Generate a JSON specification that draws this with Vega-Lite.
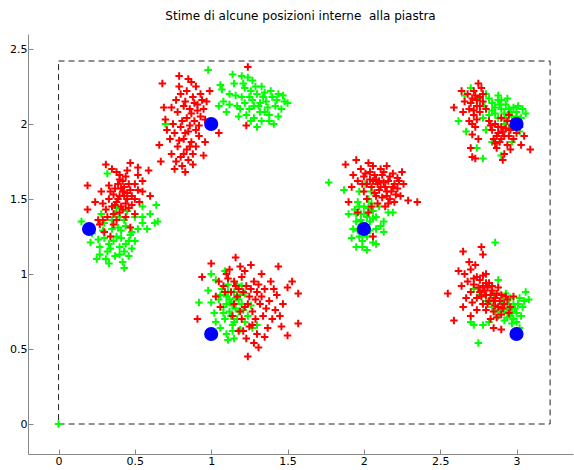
{
  "$schema": "https://vega.github.io/schema/vega-lite/v6.json",
  "width": 545,
  "height": 420,
  "autosize": "none",
  "padding": {"left": 28, "top": 34, "right": 1, "bottom": 16},
  "background": "white",
  "title": {"text": "Stime di alcune posizioni interne \u00a0alla piastra", "font": "DejaVu Sans", "fontSize": 12, "fontWeight": "normal", "color": "#000000", "offset": 11},
  "config": {
    "view": {"stroke": null},
    "axis": {"grid": false, "domainColor": "#888888", "tickColor": "#888888", "labelColor": "#000000", "labelFont": "DejaVu Sans", "labelFontSize": 11, "title": null, "tickSize": -5, "labelPadding": 6}
  },
  "datasets": {
    "piastra": [{"x0": 0, "x1": 3.22, "y0": 0, "y1": 2.42}],
    "riferimenti": [
      {"x": 0.2, "y": 1.3}, {"x": 1, "y": 2}, {"x": 1, "y": 0.6},
      {"x": 2, "y": 1.3}, {"x": 3, "y": 2}, {"x": 3, "y": 0.6}
    ],
    "stime": [
      {"x":0.41,"y":1.29,"c":"g"},{"x":0.38,"y":1.25,"c":"g"},{"x":0.44,"y":1.32,"c":"g"},{"x":0.35,"y":1.30,"c":"g"},{"x":0.46,"y":1.22,"c":"g"},{"x":0.40,"y":1.18,"c":"g"},{"x":0.33,"y":1.20,"c":"g"},{"x":0.30,"y":1.24,"c":"g"},{"x":0.43,"y":1.15,"c":"g"},{"x":0.37,"y":1.12,"c":"g"},{"x":0.42,"y":1.08,"c":"g"},{"x":0.32,"y":1.15,"c":"g"},{"x":0.27,"y":1.18,"c":"g"},{"x":0.25,"y":1.10,"c":"g"},{"x":0.48,"y":1.28,"c":"g"},{"x":0.52,"y":1.30,"c":"g"},{"x":0.55,"y":1.34,"c":"g"},{"x":0.58,"y":1.30,"c":"g"},{"x":0.63,"y":1.34,"c":"g"},{"x":0.65,"y":1.35,"c":"g"},{"x":0.50,"y":1.38,"c":"g"},{"x":0.45,"y":1.42,"c":"g"},{"x":0.40,"y":1.38,"c":"g"},{"x":0.35,"y":1.36,"c":"g"},{"x":0.30,"y":1.34,"c":"g"},{"x":0.22,"y":1.27,"c":"g"},{"x":0.21,"y":1.21,"c":"g"},{"x":0.15,"y":1.35,"c":"g"},{"x":0.28,"y":1.40,"c":"g"},{"x":0.38,"y":1.44,"c":"g"},{"x":0.55,"y":1.45,"c":"g"},{"x":0.64,"y":1.46,"c":"g"},{"x":0.46,"y":1.12,"c":"g"},{"x":0.33,"y":1.07,"c":"g"},{"x":0.43,"y":1.04,"c":"g"},{"x":0.27,"y":1.13,"c":"g"},{"x":0.44,"y":1.20,"c":"g"},{"x":0.32,"y":1.67,"c":"g"},
      {"x":0.36,"y":1.22,"c":"g"},{"x":0.41,"y":1.24,"c":"g"},{"x":0.39,"y":1.31,"c":"g"},{"x":0.47,"y":1.26,"c":"g"},{"x":0.34,"y":1.17,"c":"g"},{"x":0.40,"y":1.13,"c":"g"},{"x":0.29,"y":1.29,"c":"g"},{"x":0.50,"y":1.22,"c":"g"},{"x":0.43,"y":1.36,"c":"g"},{"x":0.37,"y":1.40,"c":"g"},{"x":0.55,"y":1.38,"c":"g"},{"x":0.26,"y":1.23,"c":"g"},{"x":0.48,"y":1.17,"c":"g"},{"x":0.31,"y":1.10,"c":"g"},{"x":0.60,"y":1.40,"c":"g"},
      {"x":0.98,"y":2.36,"c":"g"},{"x":0.70,"y":2.00,"c":"g"},{"x":1.07,"y":2.23,"c":"g"},{"x":1.06,"y":2.26,"c":"g"},{"x":1.08,"y":2.15,"c":"g"},{"x":1.10,"y":2.08,"c":"g"},{"x":1.12,"y":2.20,"c":"g"},{"x":1.15,"y":2.27,"c":"g"},{"x":1.17,"y":2.12,"c":"g"},{"x":1.18,"y":2.05,"c":"g"},{"x":1.20,"y":2.18,"c":"g"},{"x":1.22,"y":2.24,"c":"g"},{"x":1.24,"y":2.31,"c":"g"},{"x":1.25,"y":2.10,"c":"g"},{"x":1.27,"y":2.16,"c":"g"},{"x":1.28,"y":2.04,"c":"g"},{"x":1.30,"y":2.20,"c":"g"},{"x":1.31,"y":2.12,"c":"g"},{"x":1.33,"y":2.25,"c":"g"},{"x":1.35,"y":2.08,"c":"g"},{"x":1.36,"y":2.15,"c":"g"},{"x":1.38,"y":2.02,"c":"g"},{"x":1.40,"y":2.18,"c":"g"},{"x":1.42,"y":2.12,"c":"g"},{"x":1.44,"y":2.20,"c":"g"},{"x":1.46,"y":2.10,"c":"g"},{"x":1.48,"y":2.15,"c":"g"},{"x":1.50,"y":2.14,"c":"g"},{"x":1.41,"y":2.00,"c":"g"},{"x":1.30,"y":1.98,"c":"g"},{"x":1.20,"y":2.32,"c":"g"},{"x":1.14,"y":2.33,"c":"g"},{"x":1.26,"y":2.22,"c":"g"},{"x":1.23,"y":2.06,"c":"g"},{"x":1.35,"y":2.21,"c":"g"},{"x":1.05,"y":2.12,"c":"g"},{"x":1.44,"y":2.05,"c":"g"},{"x":1.32,"y":2.14,"c":"g"},
      {"x":1.22,"y":2.14,"c":"g"},{"x":1.25,"y":2.18,"c":"g"},{"x":1.28,"y":2.12,"c":"g"},{"x":1.29,"y":2.25,"c":"g"},{"x":1.32,"y":2.08,"c":"g"},{"x":1.34,"y":2.18,"c":"g"},{"x":1.37,"y":2.11,"c":"g"},{"x":1.39,"y":2.22,"c":"g"},{"x":1.19,"y":2.10,"c":"g"},{"x":1.16,"y":2.19,"c":"g"},{"x":1.21,"y":2.27,"c":"g"},{"x":1.27,"y":2.29,"c":"g"},{"x":1.43,"y":2.16,"c":"g"},{"x":1.47,"y":2.19,"c":"g"},{"x":1.38,"y":2.06,"c":"g"},{"x":1.26,"y":2.02,"c":"g"},{"x":1.12,"y":2.13,"c":"g"},{"x":1.33,"y":2.02,"c":"g"},
      {"x":1.13,"y":0.81,"c":"g"},{"x":1.10,"y":0.85,"c":"g"},{"x":1.15,"y":0.88,"c":"g"},{"x":1.18,"y":0.83,"c":"g"},{"x":1.08,"y":0.78,"c":"g"},{"x":1.12,"y":0.75,"c":"g"},{"x":1.16,"y":0.77,"c":"g"},{"x":1.20,"y":0.80,"c":"g"},{"x":1.05,"y":0.83,"c":"g"},{"x":1.07,"y":0.90,"c":"g"},{"x":1.11,"y":0.93,"c":"g"},{"x":1.17,"y":0.70,"c":"g"},{"x":1.14,"y":0.66,"c":"g"},{"x":1.19,"y":0.63,"c":"g"},{"x":1.22,"y":0.68,"c":"g"},{"x":1.24,"y":0.72,"c":"g"},{"x":1.09,"y":0.70,"c":"g"},{"x":1.03,"y":0.96,"c":"g"},{"x":1.00,"y":1.00,"c":"g"},{"x":0.98,"y":0.89,"c":"g"},{"x":0.92,"y":0.81,"c":"g"},{"x":1.00,"y":0.81,"c":"g"},{"x":1.02,"y":0.74,"c":"g"},{"x":1.20,"y":0.92,"c":"g"},{"x":1.27,"y":0.64,"c":"g"},{"x":1.30,"y":0.66,"c":"g"},{"x":1.10,"y":0.60,"c":"g"},{"x":1.11,"y":0.56,"c":"g"},{"x":1.15,"y":0.57,"c":"g"},{"x":1.03,"y":0.68,"c":"g"},{"x":1.22,"y":0.87,"c":"g"},{"x":1.09,"y":1.02,"c":"g"},{"x":1.26,"y":0.79,"c":"g"},
      {"x":1.12,"y":0.83,"c":"g"},{"x":1.14,"y":0.79,"c":"g"},{"x":1.16,"y":0.84,"c":"g"},{"x":1.10,"y":0.80,"c":"g"},{"x":1.13,"y":0.72,"c":"g"},{"x":1.18,"y":0.75,"c":"g"},{"x":1.15,"y":0.68,"c":"g"},{"x":1.11,"y":0.88,"c":"g"},{"x":1.06,"y":0.86,"c":"g"},{"x":1.08,"y":0.74,"c":"g"},{"x":1.19,"y":0.86,"c":"g"},{"x":1.21,"y":0.76,"c":"g"},{"x":1.14,"y":0.62,"c":"g"},{"x":1.06,"y":0.64,"c":"g"},{"x":1.17,"y":0.93,"c":"g"},
      {"x":1.77,"y":1.61,"c":"g"},{"x":1.87,"y":1.56,"c":"g"},{"x":2.00,"y":1.45,"c":"g"},{"x":1.96,"y":1.48,"c":"g"},{"x":2.03,"y":1.50,"c":"g"},{"x":1.98,"y":1.40,"c":"g"},{"x":2.02,"y":1.38,"c":"g"},{"x":1.94,"y":1.43,"c":"g"},{"x":1.99,"y":1.33,"c":"g"},{"x":2.04,"y":1.35,"c":"g"},{"x":1.95,"y":1.35,"c":"g"},{"x":2.00,"y":1.28,"c":"g"},{"x":1.97,"y":1.25,"c":"g"},{"x":2.06,"y":1.21,"c":"g"},{"x":1.93,"y":1.30,"c":"g"},{"x":2.06,"y":1.42,"c":"g"},{"x":2.08,"y":1.30,"c":"g"},{"x":2.13,"y":1.35,"c":"g"},{"x":2.13,"y":1.28,"c":"g"},{"x":2.16,"y":1.41,"c":"g"},{"x":2.19,"y":1.41,"c":"g"},{"x":2.08,"y":1.20,"c":"g"},{"x":1.95,"y":1.18,"c":"g"},{"x":1.99,"y":1.18,"c":"g"},{"x":2.02,"y":1.16,"c":"g"},{"x":1.92,"y":1.24,"c":"g"},{"x":2.05,"y":1.55,"c":"g"},{"x":2.01,"y":1.60,"c":"g"},{"x":1.97,"y":1.55,"c":"g"},{"x":1.90,"y":1.40,"c":"g"},{"x":2.10,"y":1.45,"c":"g"},
      {"x":2.00,"y":1.40,"c":"g"},{"x":2.03,"y":1.44,"c":"g"},{"x":1.98,"y":1.36,"c":"g"},{"x":2.01,"y":1.32,"c":"g"},{"x":1.97,"y":1.45,"c":"g"},{"x":2.04,"y":1.29,"c":"g"},{"x":2.06,"y":1.37,"c":"g"},{"x":1.99,"y":1.22,"c":"g"},{"x":2.05,"y":1.47,"c":"g"},{"x":1.95,"y":1.40,"c":"g"},{"x":2.08,"y":1.38,"c":"g"},{"x":1.96,"y":1.29,"c":"g"},{"x":2.02,"y":1.25,"c":"g"},{"x":2.11,"y":1.32,"c":"g"},
      {"x":2.66,"y":2.19,"c":"g"},{"x":2.70,"y":2.24,"c":"g"},{"x":2.75,"y":2.17,"c":"g"},{"x":2.80,"y":2.20,"c":"g"},{"x":2.84,"y":2.14,"c":"g"},{"x":2.88,"y":2.16,"c":"g"},{"x":2.90,"y":2.10,"c":"g"},{"x":2.93,"y":2.13,"c":"g"},{"x":2.96,"y":2.08,"c":"g"},{"x":2.98,"y":2.11,"c":"g"},{"x":3.00,"y":2.05,"c":"g"},{"x":3.03,"y":2.04,"c":"g"},{"x":3.06,"y":2.07,"c":"g"},{"x":2.86,"y":2.07,"c":"g"},{"x":2.82,"y":2.06,"c":"g"},{"x":2.78,"y":2.04,"c":"g"},{"x":2.92,"y":2.00,"c":"g"},{"x":2.95,"y":1.97,"c":"g"},{"x":2.99,"y":1.98,"c":"g"},{"x":3.02,"y":1.95,"c":"g"},{"x":2.80,"y":1.96,"c":"g"},{"x":2.84,"y":1.88,"c":"g"},{"x":2.67,"y":1.95,"c":"g"},{"x":2.74,"y":1.84,"c":"g"},{"x":2.78,"y":1.77,"c":"g"},{"x":2.88,"y":2.19,"c":"g"},{"x":2.94,"y":2.17,"c":"g"},{"x":3.01,"y":2.12,"c":"g"},{"x":2.90,"y":1.79,"c":"g"},{"x":2.97,"y":1.88,"c":"g"},{"x":2.62,"y":2.02,"c":"g"},
      {"x":2.86,"y":2.11,"c":"g"},{"x":2.89,"y":2.13,"c":"g"},{"x":2.92,"y":2.07,"c":"g"},{"x":2.95,"y":2.10,"c":"g"},{"x":2.97,"y":2.05,"c":"g"},{"x":2.90,"y":2.16,"c":"g"},{"x":2.84,"y":2.09,"c":"g"},{"x":3.00,"y":2.08,"c":"g"},{"x":2.82,"y":2.17,"c":"g"},{"x":2.93,"y":2.03,"c":"g"},{"x":2.99,"y":2.02,"c":"g"},{"x":2.88,"y":2.04,"c":"g"},{"x":3.04,"y":2.10,"c":"g"},{"x":2.79,"y":2.12,"c":"g"},
      {"x":2.86,"y":1.21,"c":"g"},{"x":2.75,"y":0.54,"c":"g"},{"x":3.06,"y":0.88,"c":"g"},{"x":3.08,"y":0.83,"c":"g"},{"x":2.88,"y":0.96,"c":"g"},{"x":2.90,"y":0.80,"c":"g"},{"x":2.94,"y":0.77,"c":"g"},{"x":2.98,"y":0.80,"c":"g"},{"x":3.02,"y":0.84,"c":"g"},{"x":2.96,"y":0.72,"c":"g"},{"x":3.00,"y":0.74,"c":"g"},{"x":2.92,"y":0.69,"c":"g"},{"x":2.97,"y":0.67,"c":"g"},{"x":3.00,"y":0.68,"c":"g"},{"x":2.88,"y":0.72,"c":"g"},{"x":2.84,"y":0.78,"c":"g"},{"x":2.80,"y":0.82,"c":"g"},{"x":2.76,"y":0.86,"c":"g"},{"x":2.72,"y":0.90,"c":"g"},{"x":2.82,"y":0.68,"c":"g"},{"x":2.78,"y":0.66,"c":"g"},{"x":2.72,"y":0.66,"c":"g"},{"x":2.70,"y":0.68,"c":"g"},{"x":3.04,"y":0.78,"c":"g"},{"x":2.93,"y":0.87,"c":"g"},{"x":2.85,"y":0.87,"c":"g"},{"x":3.02,"y":0.64,"c":"g"},{"x":2.99,"y":0.62,"c":"g"},
      {"x":2.92,"y":0.75,"c":"g"},{"x":2.95,"y":0.80,"c":"g"},{"x":2.97,"y":0.75,"c":"g"},{"x":2.99,"y":0.77,"c":"g"},{"x":3.01,"y":0.80,"c":"g"},{"x":2.94,"y":0.71,"c":"g"},{"x":2.89,"y":0.76,"c":"g"},{"x":2.91,"y":0.83,"c":"g"},{"x":3.03,"y":0.72,"c":"g"},{"x":2.96,"y":0.84,"c":"g"},{"x":2.86,"y":0.75,"c":"g"},{"x":2.98,"y":0.70,"c":"g"},{"x":3.05,"y":0.82,"c":"g"},{"x":2.83,"y":0.83,"c":"g"},
      {"x":0,"y":0,"c":"g"},
      {"x":0.40,"y":1.52,"c":"r"},{"x":0.42,"y":1.55,"c":"r"},{"x":0.38,"y":1.48,"c":"r"},{"x":0.45,"y":1.50,"c":"r"},{"x":0.43,"y":1.58,"c":"r"},{"x":0.36,"y":1.53,"c":"r"},{"x":0.41,"y":1.45,"c":"r"},{"x":0.47,"y":1.56,"c":"r"},{"x":0.39,"y":1.60,"c":"r"},{"x":0.44,"y":1.47,"c":"r"},{"x":0.35,"y":1.45,"c":"r"},{"x":0.48,"y":1.52,"c":"r"},{"x":0.42,"y":1.62,"c":"r"},{"x":0.37,"y":1.57,"c":"r"},{"x":0.46,"y":1.44,"c":"r"},{"x":0.33,"y":1.50,"c":"r"},{"x":0.40,"y":1.41,"c":"r"},{"x":0.50,"y":1.60,"c":"r"},{"x":0.31,"y":1.43,"c":"r"},{"x":0.44,"y":1.65,"c":"r"},{"x":0.29,"y":1.36,"c":"r"},{"x":0.26,"y":1.36,"c":"r"},{"x":0.22,"y":1.30,"c":"r"},{"x":0.28,"y":1.55,"c":"r"},{"x":0.31,"y":1.73,"c":"r"},{"x":0.35,"y":1.70,"c":"r"},{"x":0.47,"y":1.74,"c":"r"},{"x":0.52,"y":1.71,"c":"r"},{"x":0.52,"y":1.66,"c":"r"},{"x":0.55,"y":1.62,"c":"r"},{"x":0.59,"y":1.69,"c":"r"},{"x":0.53,"y":1.48,"c":"r"},{"x":0.50,"y":1.40,"c":"r"},{"x":0.47,"y":1.31,"c":"r"},{"x":0.36,"y":1.33,"c":"r"},{"x":0.30,"y":1.28,"c":"r"},{"x":0.34,"y":1.25,"c":"r"},{"x":0.19,"y":1.59,"c":"r"},{"x":0.19,"y":1.43,"c":"r"},{"x":0.24,"y":1.48,"c":"r"},{"x":0.38,"y":1.68,"c":"r"},{"x":0.55,"y":1.55,"c":"r"},{"x":0.60,"y":1.52,"c":"r"},{"x":0.27,"y":1.33,"c":"r"},
      {"x":0.39,"y":1.50,"c":"r"},{"x":0.43,"y":1.52,"c":"r"},{"x":0.41,"y":1.57,"c":"r"},{"x":0.37,"y":1.46,"c":"r"},{"x":0.45,"y":1.54,"c":"r"},{"x":0.34,"y":1.55,"c":"r"},{"x":0.40,"y":1.63,"c":"r"},{"x":0.46,"y":1.60,"c":"r"},{"x":0.36,"y":1.40,"c":"r"},{"x":0.42,"y":1.43,"c":"r"},{"x":0.48,"y":1.46,"c":"r"},{"x":0.38,"y":1.36,"c":"r"},{"x":0.32,"y":1.38,"c":"r"},{"x":0.44,"y":1.38,"c":"r"},{"x":0.50,"y":1.50,"c":"r"},{"x":0.33,"y":1.59,"c":"r"},{"x":0.29,"y":1.47,"c":"r"},{"x":0.52,"y":1.56,"c":"r"},{"x":0.40,"y":1.66,"c":"r"},{"x":0.45,"y":1.69,"c":"r"},
      {"x":0.68,"y":2.27,"c":"r"},{"x":0.79,"y":2.32,"c":"r"},{"x":1.24,"y":2.38,"c":"r"},{"x":0.69,"y":2.11,"c":"r"},{"x":0.70,"y":2.03,"c":"r"},{"x":0.66,"y":1.86,"c":"r"},{"x":0.67,"y":1.75,"c":"r"},{"x":0.83,"y":1.68,"c":"r"},{"x":0.95,"y":1.79,"c":"r"},{"x":0.96,"y":1.88,"c":"r"},{"x":1.05,"y":1.94,"c":"r"},{"x":1.23,"y":1.99,"c":"r"},{"x":0.80,"y":2.20,"c":"r"},{"x":0.84,"y":2.22,"c":"r"},{"x":0.88,"y":2.18,"c":"r"},{"x":0.90,"y":2.25,"c":"r"},{"x":0.93,"y":2.20,"c":"r"},{"x":0.82,"y":2.12,"c":"r"},{"x":0.86,"y":2.10,"c":"r"},{"x":0.91,"y":2.13,"c":"r"},{"x":0.95,"y":2.10,"c":"r"},{"x":0.78,"y":2.08,"c":"r"},{"x":0.84,"y":2.04,"c":"r"},{"x":0.89,"y":2.02,"c":"r"},{"x":0.93,"y":2.05,"c":"r"},{"x":0.80,"y":1.98,"c":"r"},{"x":0.85,"y":1.95,"c":"r"},{"x":0.90,"y":1.96,"c":"r"},{"x":0.76,"y":1.94,"c":"r"},{"x":0.82,"y":1.90,"c":"r"},{"x":0.87,"y":1.88,"c":"r"},{"x":0.78,"y":1.85,"c":"r"},{"x":0.84,"y":1.83,"c":"r"},{"x":0.88,"y":1.80,"c":"r"},{"x":0.80,"y":1.78,"c":"r"},{"x":0.85,"y":1.76,"c":"r"},{"x":0.90,"y":1.85,"c":"r"},{"x":0.75,"y":2.00,"c":"r"},{"x":0.73,"y":1.90,"c":"r"},{"x":0.92,"y":1.92,"c":"r"},{"x":0.97,"y":2.15,"c":"r"},{"x":0.99,"y":2.22,"c":"r"},{"x":0.87,"y":2.28,"c":"r"},{"x":0.77,"y":2.16,"c":"r"},{"x":0.81,"y":1.72,"c":"r"},{"x":0.74,"y":1.80,"c":"r"},
      {"x":0.83,"y":2.15,"c":"r"},{"x":0.87,"y":2.07,"c":"r"},{"x":0.81,"y":2.02,"c":"r"},{"x":0.86,"y":1.99,"c":"r"},{"x":0.83,"y":1.94,"c":"r"},{"x":0.79,"y":1.89,"c":"r"},{"x":0.86,"y":1.85,"c":"r"},{"x":0.82,"y":1.80,"c":"r"},{"x":0.77,"y":1.75,"c":"r"},{"x":0.88,"y":1.73,"c":"r"},{"x":0.91,"y":2.09,"c":"r"},{"x":0.89,"y":2.14,"c":"r"},{"x":0.94,"y":2.16,"c":"r"},{"x":0.79,"y":2.25,"c":"r"},{"x":0.74,"y":2.11,"c":"r"},{"x":0.71,"y":1.96,"c":"r"},{"x":0.92,"y":1.99,"c":"r"},{"x":0.96,"y":2.03,"c":"r"},{"x":0.85,"y":2.30,"c":"r"},{"x":0.76,"y":1.70,"c":"r"},
      {"x":1.16,"y":1.11,"c":"r"},{"x":1.00,"y":1.07,"c":"r"},{"x":1.26,"y":1.06,"c":"r"},{"x":1.44,"y":1.05,"c":"r"},{"x":0.94,"y":0.98,"c":"r"},{"x":1.53,"y":0.95,"c":"r"},{"x":1.57,"y":0.87,"c":"r"},{"x":1.50,"y":0.91,"c":"r"},{"x":0.91,"y":0.70,"c":"r"},{"x":1.03,"y":0.85,"c":"r"},{"x":1.57,"y":0.67,"c":"r"},{"x":1.50,"y":0.59,"c":"r"},{"x":1.31,"y":0.51,"c":"r"},{"x":1.24,"y":0.45,"c":"r"},{"x":1.42,"y":0.76,"c":"r"},{"x":1.46,"y":0.65,"c":"r"},{"x":1.37,"y":0.64,"c":"r"},{"x":1.10,"y":1.00,"c":"r"},{"x":1.15,"y":0.95,"c":"r"},{"x":1.20,"y":0.98,"c":"r"},{"x":1.08,"y":0.92,"c":"r"},{"x":1.13,"y":0.88,"c":"r"},{"x":1.18,"y":0.90,"c":"r"},{"x":1.23,"y":0.92,"c":"r"},{"x":1.28,"y":0.95,"c":"r"},{"x":1.25,"y":0.85,"c":"r"},{"x":1.30,"y":0.88,"c":"r"},{"x":1.35,"y":0.90,"c":"r"},{"x":1.32,"y":0.80,"c":"r"},{"x":1.38,"y":0.82,"c":"r"},{"x":1.22,"y":0.78,"c":"r"},{"x":1.27,"y":0.75,"c":"r"},{"x":1.34,"y":0.72,"c":"r"},{"x":1.40,"y":0.70,"c":"r"},{"x":1.20,"y":0.70,"c":"r"},{"x":1.25,"y":0.65,"c":"r"},{"x":1.30,"y":0.60,"c":"r"},{"x":1.18,"y":0.62,"c":"r"},{"x":1.23,"y":0.57,"c":"r"},{"x":1.28,"y":0.54,"c":"r"},{"x":1.14,"y":0.72,"c":"r"},{"x":1.06,"y":0.78,"c":"r"},{"x":1.12,"y":1.03,"c":"r"},{"x":1.05,"y":0.95,"c":"r"},{"x":1.43,"y":0.86,"c":"r"},{"x":1.47,"y":0.80,"c":"r"},{"x":1.15,"y":0.80,"c":"r"},{"x":1.33,"y":1.00,"c":"r"},{"x":1.39,"y":0.95,"c":"r"},{"x":1.22,"y":1.02,"c":"r"},{"x":1.45,"y":0.72,"c":"r"},
      {"x":1.17,"y":0.85,"c":"r"},{"x":1.21,"y":0.88,"c":"r"},{"x":1.26,"y":0.90,"c":"r"},{"x":1.29,"y":0.83,"c":"r"},{"x":1.24,"y":0.80,"c":"r"},{"x":1.19,"y":0.75,"c":"r"},{"x":1.29,"y":0.70,"c":"r"},{"x":1.33,"y":0.85,"c":"r"},{"x":1.36,"y":0.77,"c":"r"},{"x":1.27,"y":0.66,"c":"r"},{"x":1.21,"y":0.62,"c":"r"},{"x":1.16,"y":0.92,"c":"r"},{"x":1.11,"y":0.97,"c":"r"},{"x":1.31,"y":0.93,"c":"r"},{"x":1.41,"y":0.90,"c":"r"},{"x":1.19,"y":1.05,"c":"r"},{"x":1.35,"y":0.58,"c":"r"},{"x":1.09,"y":0.88,"c":"r"},
      {"x":2.29,"y":1.49,"c":"r"},{"x":2.35,"y":1.48,"c":"r"},{"x":1.88,"y":1.73,"c":"r"},{"x":1.95,"y":1.76,"c":"r"},{"x":2.03,"y":1.41,"c":"r"},{"x":1.96,"y":1.41,"c":"r"},{"x":2.06,"y":1.25,"c":"r"},{"x":1.90,"y":1.48,"c":"r"},{"x":2.00,"y":1.65,"c":"r"},{"x":2.04,"y":1.68,"c":"r"},{"x":2.08,"y":1.63,"c":"r"},{"x":2.12,"y":1.66,"c":"r"},{"x":2.16,"y":1.62,"c":"r"},{"x":2.20,"y":1.60,"c":"r"},{"x":2.05,"y":1.58,"c":"r"},{"x":2.10,"y":1.56,"c":"r"},{"x":2.14,"y":1.58,"c":"r"},{"x":2.18,"y":1.55,"c":"r"},{"x":2.22,"y":1.57,"c":"r"},{"x":2.02,"y":1.60,"c":"r"},{"x":2.07,"y":1.54,"c":"r"},{"x":2.12,"y":1.51,"c":"r"},{"x":2.17,"y":1.50,"c":"r"},{"x":2.24,"y":1.52,"c":"r"},{"x":2.00,"y":1.55,"c":"r"},{"x":1.96,"y":1.62,"c":"r"},{"x":1.93,"y":1.66,"c":"r"},{"x":2.06,"y":1.72,"c":"r"},{"x":2.11,"y":1.70,"c":"r"},{"x":2.15,"y":1.72,"c":"r"},{"x":2.19,"y":1.67,"c":"r"},{"x":2.22,"y":1.64,"c":"r"},{"x":2.26,"y":1.60,"c":"r"},{"x":2.09,"y":1.47,"c":"r"},{"x":2.14,"y":1.45,"c":"r"},{"x":1.98,"y":1.70,"c":"r"},{"x":2.03,"y":1.74,"c":"r"},{"x":2.20,"y":1.48,"c":"r"},{"x":2.25,"y":1.68,"c":"r"},{"x":1.92,"y":1.58,"c":"r"},{"x":2.10,"y":1.62,"c":"r"},{"x":2.02,"y":1.50,"c":"r"},
      {"x":2.06,"y":1.62,"c":"r"},{"x":2.09,"y":1.60,"c":"r"},{"x":2.13,"y":1.61,"c":"r"},{"x":2.11,"y":1.58,"c":"r"},{"x":2.15,"y":1.55,"c":"r"},{"x":2.07,"y":1.66,"c":"r"},{"x":2.17,"y":1.65,"c":"r"},{"x":2.04,"y":1.63,"c":"r"},{"x":2.19,"y":1.58,"c":"r"},{"x":2.13,"y":1.68,"c":"r"},{"x":2.08,"y":1.52,"c":"r"},{"x":2.15,"y":1.52,"c":"r"},{"x":2.01,"y":1.67,"c":"r"},{"x":2.21,"y":1.53,"c":"r"},{"x":2.05,"y":1.45,"c":"r"},{"x":1.99,"y":1.60,"c":"r"},{"x":2.23,"y":1.62,"c":"r"},{"x":2.16,"y":1.47,"c":"r"},
      {"x":2.75,"y":2.27,"c":"r"},{"x":2.59,"y":2.11,"c":"r"},{"x":2.65,"y":2.08,"c":"r"},{"x":2.71,"y":1.78,"c":"r"},{"x":2.73,"y":1.77,"c":"r"},{"x":3.09,"y":1.83,"c":"r"},{"x":3.03,"y":1.86,"c":"r"},{"x":2.96,"y":1.83,"c":"r"},{"x":2.91,"y":1.76,"c":"r"},{"x":2.70,"y":1.84,"c":"r"},{"x":2.68,"y":2.20,"c":"r"},{"x":2.72,"y":2.22,"c":"r"},{"x":2.76,"y":2.18,"c":"r"},{"x":2.70,"y":2.14,"c":"r"},{"x":2.74,"y":2.12,"c":"r"},{"x":2.78,"y":2.15,"c":"r"},{"x":2.66,"y":2.15,"c":"r"},{"x":2.72,"y":2.06,"c":"r"},{"x":2.76,"y":2.08,"c":"r"},{"x":2.69,"y":2.02,"c":"r"},{"x":2.73,"y":1.98,"c":"r"},{"x":2.77,"y":2.24,"c":"r"},{"x":2.80,"y":2.10,"c":"r"},{"x":2.64,"y":2.22,"c":"r"},{"x":2.71,"y":1.93,"c":"r"},{"x":2.75,"y":1.90,"c":"r"},{"x":2.86,"y":2.00,"c":"r"},{"x":2.90,"y":1.98,"c":"r"},{"x":2.94,"y":2.02,"c":"r"},{"x":2.88,"y":1.94,"c":"r"},{"x":2.92,"y":1.92,"c":"r"},{"x":2.96,"y":1.96,"c":"r"},{"x":3.00,"y":1.94,"c":"r"},{"x":2.84,"y":1.96,"c":"r"},{"x":2.89,"y":1.88,"c":"r"},{"x":2.94,"y":1.86,"c":"r"},{"x":2.98,"y":1.90,"c":"r"},{"x":3.02,"y":1.98,"c":"r"},{"x":2.85,"y":1.90,"c":"r"},{"x":2.90,"y":2.04,"c":"r"},{"x":2.82,"y":2.02,"c":"r"},{"x":2.95,"y":2.06,"c":"r"},{"x":2.87,"y":1.84,"c":"r"},{"x":3.05,"y":1.92,"c":"r"},{"x":2.92,"y":1.80,"c":"r"},
      {"x":2.71,"y":2.17,"c":"r"},{"x":2.73,"y":2.19,"c":"r"},{"x":2.74,"y":2.16,"c":"r"},{"x":2.69,"y":2.10,"c":"r"},{"x":2.72,"y":2.09,"c":"r"},{"x":2.76,"y":2.12,"c":"r"},{"x":2.71,"y":2.00,"c":"r"},{"x":2.74,"y":2.03,"c":"r"},{"x":2.88,"y":1.98,"c":"r"},{"x":2.91,"y":1.95,"c":"r"},{"x":2.93,"y":1.97,"c":"r"},{"x":2.87,"y":1.92,"c":"r"},{"x":2.90,"y":1.90,"c":"r"},{"x":2.95,"y":1.92,"c":"r"},{"x":2.86,"y":1.87,"c":"r"},{"x":2.97,"y":1.99,"c":"r"},{"x":2.83,"y":1.99,"c":"r"},{"x":2.78,"y":2.20,"c":"r"},
      {"x":2.77,"y":1.18,"c":"r"},{"x":2.65,"y":1.15,"c":"r"},{"x":2.78,"y":1.13,"c":"r"},{"x":2.55,"y":0.87,"c":"r"},{"x":2.65,"y":0.78,"c":"r"},{"x":2.59,"y":0.69,"c":"r"},{"x":2.70,"y":0.72,"c":"r"},{"x":2.85,"y":0.64,"c":"r"},{"x":2.90,"y":0.63,"c":"r"},{"x":2.62,"y":1.02,"c":"r"},{"x":2.66,"y":1.00,"c":"r"},{"x":2.70,"y":1.03,"c":"r"},{"x":2.74,"y":0.98,"c":"r"},{"x":2.68,"y":0.95,"c":"r"},{"x":2.72,"y":0.93,"c":"r"},{"x":2.76,"y":0.96,"c":"r"},{"x":2.80,"y":1.00,"c":"r"},{"x":2.78,"y":0.92,"c":"r"},{"x":2.82,"y":0.94,"c":"r"},{"x":2.76,"y":0.88,"c":"r"},{"x":2.80,"y":0.86,"c":"r"},{"x":2.84,"y":0.89,"c":"r"},{"x":2.88,"y":0.91,"c":"r"},{"x":2.82,"y":0.82,"c":"r"},{"x":2.86,"y":0.84,"c":"r"},{"x":2.90,"y":0.86,"c":"r"},{"x":2.94,"y":0.83,"c":"r"},{"x":2.88,"y":0.78,"c":"r"},{"x":2.92,"y":0.80,"c":"r"},{"x":2.96,"y":0.78,"c":"r"},{"x":2.85,"y":0.75,"c":"r"},{"x":2.90,"y":0.73,"c":"r"},{"x":2.78,"y":0.80,"c":"r"},{"x":2.74,"y":0.84,"c":"r"},{"x":2.70,"y":0.88,"c":"r"},{"x":2.64,"y":0.92,"c":"r"},{"x":2.73,"y":1.06,"c":"r"},{"x":2.69,"y":1.08,"c":"r"},{"x":2.83,"y":0.70,"c":"r"},{"x":2.80,"y":0.76,"c":"r"},{"x":2.98,"y":0.85,"c":"r"},{"x":2.67,"y":0.84,"c":"r"},{"x":2.74,"y":0.76,"c":"r"},{"x":2.95,"y":0.74,"c":"r"},
      {"x":2.79,"y":0.89,"c":"r"},{"x":2.81,"y":0.91,"c":"r"},{"x":2.83,"y":0.86,"c":"r"},{"x":2.85,"y":0.82,"c":"r"},{"x":2.87,"y":0.87,"c":"r"},{"x":2.84,"y":0.92,"c":"r"},{"x":2.77,"y":0.85,"c":"r"},{"x":2.80,"y":0.94,"c":"r"},{"x":2.89,"y":0.82,"c":"r"},{"x":2.91,"y":0.77,"c":"r"},{"x":2.86,"y":0.79,"c":"r"},{"x":2.75,"y":0.91,"c":"r"},{"x":2.72,"y":0.97,"c":"r"},{"x":2.81,"y":0.80,"c":"r"},{"x":2.93,"y":0.85,"c":"r"},{"x":2.78,"y":0.99,"c":"r"},{"x":2.71,"y":0.81,"c":"r"},{"x":2.87,"y":0.71,"c":"r"}
    ]
  },
  "layer": [
    {
      "data": {"name": "piastra"},
      "mark": {"type": "rect", "fill": null, "stroke": "#222222", "strokeWidth": 1, "strokeDash": [6, 4]},
      "encoding": {
        "x": {"field": "x0", "type": "quantitative", "scale": {"domain": [-0.2, 3.37], "nice": false, "zero": false},
              "axis": {"values": [0, 0.5, 1, 1.5, 2, 2.5, 3], "format": "~g"}},
        "x2": {"field": "x1"},
        "y": {"field": "y0", "type": "quantitative", "scale": {"domain": [-0.2, 2.6], "nice": false, "zero": false},
              "axis": {"values": [0, 0.5, 1, 1.5, 2, 2.5], "format": "~g"}},
        "y2": {"field": "y1"}
      }
    },
    {
      "data": {"name": "stime"},
      "mark": {"type": "point", "shape": "M-1,0H1M0,-1V1", "filled": false, "size": 56, "strokeWidth": 2, "opacity": 1},
      "encoding": {
        "x": {"field": "x", "type": "quantitative"},
        "y": {"field": "y", "type": "quantitative"},
        "color": {"field": "c", "type": "nominal", "legend": null,
                  "scale": {"domain": ["r", "g"], "range": ["#ff0000", "#00ff00"]}}
      }
    },
    {
      "data": {"name": "riferimenti"},
      "mark": {"type": "point", "shape": "circle", "filled": true, "size": 200, "color": "#0000ff", "opacity": 1},
      "encoding": {
        "x": {"field": "x", "type": "quantitative"},
        "y": {"field": "y", "type": "quantitative"}
      }
    }
  ]
}
